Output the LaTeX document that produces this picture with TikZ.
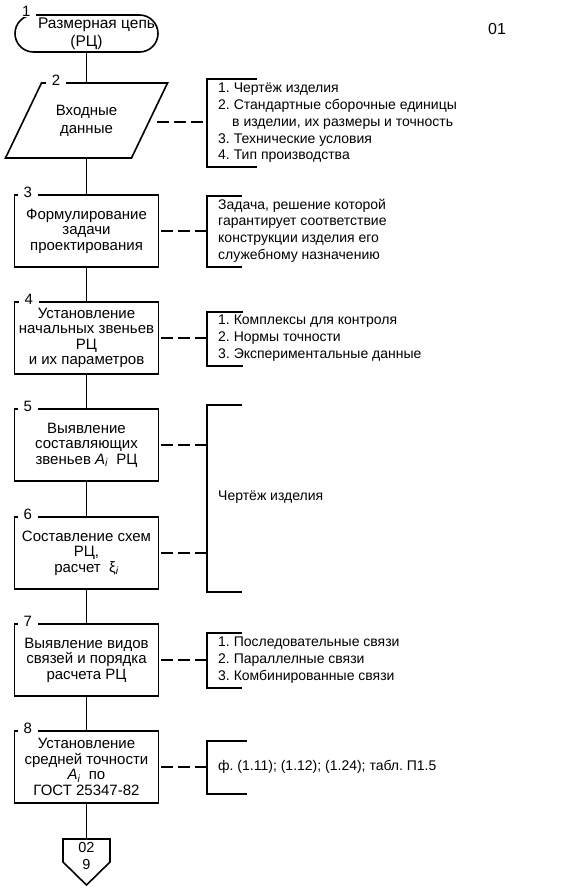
\documentclass[tikz,border=0pt]{standalone}
\usepackage{fontspec}
\setmainfont{Liberation Sans}
\usepackage{tikz}
\usetikzlibrary{calc}
\frenchspacing

\newcommand{\boxf}{\fontsize{15}{15.5}\selectfont}
\newcommand{\lstf}{\fontsize{14}{16.8}\selectfont}
\newcommand{\numf}{\fontsize{15}{15}\selectfont}

\tikzset{
	blk/.style={draw, line width=1.6pt, minimum width=144pt, minimum height=72pt,
		align=center, inner sep=1pt, font=\boxf},
	lnk/.style={line width=1.2pt},
	dsh/.style={line width=1.2pt, dash pattern=on 12pt off 5pt, dash phase=15pt},
	brk/.style={line width=1.3pt},
	numlbl/.style={fill=white, inner xsep=6pt, inner ysep=1pt, font=\numf},
	lst/.style={anchor=west, align=left, inner sep=0pt, font=\lstf}
}

\begin{document}
\begin{tikzpicture}[x=1pt,y=-1pt]
	\useasboundingbox (0,0) rectangle (563,889);
	% main chain
	\node[draw, line width=1.6pt, rounded corners=18.5pt, minimum width=143pt, minimum height=37pt,
		align=center, inner sep=1pt, font=\fontsize{15.5}{18}\selectfont] (n1) at (86.5,33.5) {Размерная цепь\hspace*{-20pt}\\(РЦ)};
	\node[align=center, font=\fontsize{15}{18}\selectfont] (n2) at (86.5,120.5) {Входные\\данные};
	\draw[line width=1.6pt] ($(n2)+(-45,-37.5)$) -- ($(n2)+(81,-37.5)$) -- ($(n2)+(45,37.5)$) -- ($(n2)+(-81,37.5)$) -- cycle;
	\coordinate (n2t) at ($(n2)+(0,-37.5)$);
	\coordinate (n2b) at ($(n2)+(0,37.5)$);
	\coordinate (n2r) at ($(n2)+(68.5,1.5)$);
	\node[blk] (n3) at (86.5,231) {Формулирование\\задачи\\проектирования};
	\node[blk] (n4) at (86.5,338) {Установление\\начальных звеньев\\РЦ\\и их параметров};
	\node[blk] (n5) at (86.5,445) {Выявление\\составляющих\\звеньев {\itshape A}\textsubscript{\itshape i}\ \ РЦ};
	\node[blk] (n6) at (86.5,553) {Составление схем\\РЦ,\\расчет\ \ ξ\textsubscript{\itshape i}};
	\node[blk] (n7) at (86.5,660) {Выявление видов\\связей и порядка\\расчета РЦ};
	\node[blk] (n8) at (86.5,767) {Установление\\средней точности\\{\itshape A}\textsubscript{\itshape i}\ \ по\\ГОСТ 25347-82};
	\node[align=center, inner sep=0pt, font=\fontsize{14.5}{17}\selectfont] (n9) at (86.5,855.5) {02\\9};
	\draw[line width=1.6pt] ($(n9)+(-23.5,-16.5)$) -- ($(n9)+(23.5,-16.5)$) -- ($(n9)+(23.5,6.5)$)
		-- ($(n9)+(0,29.5)$) -- ($(n9)+(-23.5,6.5)$) -- cycle;
	\coordinate (n9t) at ($(n9)+(0,-16.5)$);

	% numbers on the frames
	\node[numlbl] (l1) at ([xshift=12pt,yshift=3pt]n1.north west) {1};
	\node[numlbl] (l2) at ($(n2)+(-30.5,-40.5)$) {2};
	\node[numlbl] (l3) at ([xshift=14pt,yshift=2pt]n3.north west) {3};
	\node[numlbl] (l4) at ([xshift=15pt,yshift=2pt]n4.north west) {4};
	\node[numlbl] (l5) at ([xshift=14pt,yshift=2pt]n5.north west) {5};
	\node[numlbl] (l6) at ([xshift=14pt,yshift=2pt]n6.north west) {6};
	\node[numlbl] (l7) at ([xshift=14pt,yshift=2pt]n7.north west) {7};
	\node[numlbl] (l8) at ([xshift=14pt,yshift=2pt]n8.north west) {8};
	\node[font=\fontsize{16}{16}\selectfont] (pg) at (497,29) {01};

	% flow lines
	\draw[lnk] (n1.south) -- (n2t);
	\draw[lnk] (n2b) -- (n3.north);
	\draw[lnk] (n3.south) -- (n4.north);
	\draw[lnk] (n4.south) -- (n5.north);
	\draw[lnk] (n5.south) -- (n6.north);
	\draw[lnk] (n6.south) -- (n7.north);
	\draw[lnk] (n7.south) -- (n8.north);
	\draw[lnk] (n8.south) -- (n9t);

	% brackets
	\coordinate (b2) at (207,122);
	\coordinate (b3) at (207,231);
	\coordinate (b4) at (207,338);
	\coordinate (b5) at (207,445);
	\coordinate (b6) at (207,553);
	\coordinate (b7) at (207,660);
	\coordinate (b8) at (207,767);
	\draw[brk] (257,79) -- (207,79) -- (207,167) -- (257,167);
	\draw[brk] (242,196) -- (207,196) -- (207,267) -- (242,267);
	\draw[brk] (243,312) -- (207,312) -- (207,366) -- (243,366);
	\draw[brk] (242,405) -- (207,405) -- (207,592) -- (242,592);
	\draw[brk] (242,633) -- (207,633) -- (207,688) -- (242,688);
	\draw[brk] (247,741) -- (207,741) -- (207,794) -- (247,794);

	\draw[dsh] (n2r) -- (b2);
	\draw[dsh] (n3.east) -- (b3);
	\draw[dsh] (n4.east) -- (b4);
	\draw[dsh] (n5.east) -- (b5);
	\draw[dsh] (n6.east) -- (b6);
	\draw[dsh] (n7.east) -- (b7);
	\draw[dsh] (n8.east) -- (b8);

	% notes
	\node[lst] (t2) at (218,123) {1. Чертёж изделия\\2. Стандартные сборочные единицы\\\hspace*{14pt}в изделии, их размеры и точность\\3. Технические условия\\4. Тип производства};
	\node[lst] (t3) at (218,230.5) {Задача, решение которой\\гарантирует соответствие\\конструкции изделия его\\служебному назначению};
	\node[lst] (t4) at (218,338) {1. Комплексы для контроля\\2. Нормы точности\\3. Экспериментальные данные};
	\node[lst] (t56) at (218,497) {Чертёж изделия};
	\node[lst] (t7) at (218,660) {1. Последовательные связи\\2. Параллелные связи\\3. Комбинированные связи};
	\node[lst] (t8) at (218,767) {ф. (1.11); (1.12); (1.24); табл. П1.5};
\end{tikzpicture}
\end{document}
